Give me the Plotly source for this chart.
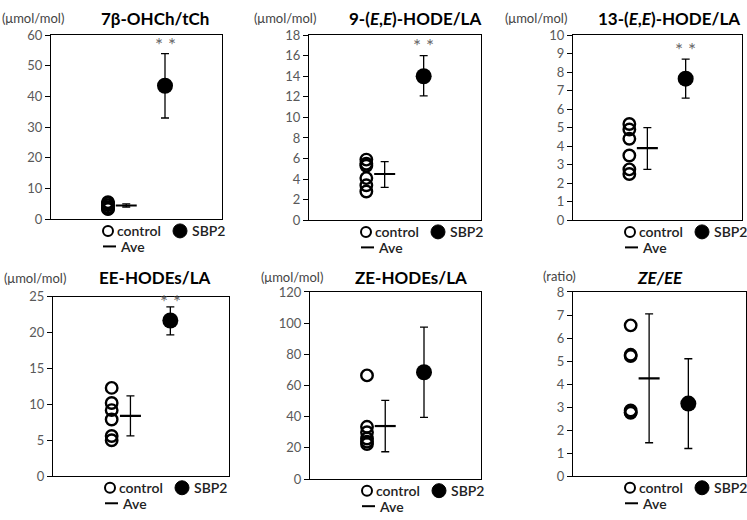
import plotly.graph_objects as go

W, H = 747, 520

titles = ["7β-OHCh/tCh", "9-(<i>E</i>,<i>E</i>)-HODE/LA", "13-(<i>E</i>,<i>E</i>)-HODE/LA",
          "EE-HODEs/LA", "ZE-HODEs/LA", "<i>ZE/EE</i>"]
units = ["(μmol/mol)", "(μmol/mol)", "(μmol/mol)", "(μmol/mol)", "(μmol/mol)", "(ratio)"]
y_max = [60, 18, 10, 25, 120, 8]
y_dtick = [10, 2, 1, 5, 20, 1]

control_vals = [
    [5.6, 5.2, 4.6, 3.9, 3.5, 3.3],
    [5.9, 5.5, 5.3, 4.1, 3.4, 2.8],
    [5.2, 4.9, 4.4, 3.5, 2.75, 2.5],
    [12.3, 10.2, 9.2, 7.9, 5.6, 5.0],
    [66.5, 33.5, 30.0, 26.0, 24.0, 22.5],
    [6.55, 5.27, 5.22, 2.85, 2.78, 2.75],
]
ave_mean = [4.5, 4.5, 3.9, 8.4, 34.0, 4.25]
ave_lo = [4.0, 3.2, 2.75, 5.6, 17.5, 1.45]
ave_hi = [5.0, 5.7, 5.0, 11.2, 50.5, 7.05]
sbp2_mean = [43.5, 14.0, 7.65, 21.7, 68.5, 3.15]
sbp2_lo = [33.0, 12.1, 6.6, 19.7, 39.5, 1.2]
sbp2_hi = [54.0, 16.0, 8.7, 23.6, 97.5, 5.1]
signif = ["* *", "* *", "* *", "* *", "", ""]
signif_y = [57.0, 17.0, 9.25, 24.3, None, None]

# x positions of groups
X_CONTROL, X_AVE, X_SBP2 = 1.0, 1.32, 2.0

# panel pixel boxes: left, right, top, bottom
boxes = [(51, 222, 28, 218), (309, 481, 28, 219), (573, 742, 28, 219),
         (53, 229, 298, 483), (310, 481, 293, 486), (573, 746, 293, 483)]
title_pos = [(155, 11), (415, 11), (669, 11), (155, 278), (411, 278), (660, 278)]
unit_pos = [(0, 10), (252, 10), (503, 10), (2, 279), (259, 278), (541, 276)]

FONT = "Lato"
TICK_COLOR = "#595959"

fig = go.Figure()

def px(x):
    return x / W

def py(y):
    return 1 - y / H

layout = dict(width=W, height=H, margin=dict(l=0, r=0, t=0, b=0),
              plot_bgcolor="white", paper_bgcolor="white", showlegend=False,
              font=dict(family=FONT, color="#222"))
annotations = []
shapes = []

for i in range(6):
    l, r, t, b = boxes[i]
    n = "" if i == 0 else str(i + 1)
    xa, ya = "x" + n, "y" + n
    layout["xaxis" + n] = dict(domain=[px(l), px(r)], range=[0, 3], anchor=ya,
                               showticklabels=False, ticks="", showgrid=False, zeroline=False,
                               showline=True, linecolor="black", linewidth=1, mirror=True,
                               fixedrange=True)
    layout["yaxis" + n] = dict(domain=[py(b), py(t)], range=[0, y_max[i]], dtick=y_dtick[i],
                               anchor=xa, showgrid=False, zeroline=False,
                               showline=True, linecolor="black", linewidth=1, mirror=True,
                               ticks="outside", ticklen=5, tickcolor="black",
                               tickfont=dict(family=FONT, size=13, color=TICK_COLOR),
                               fixedrange=True)
    cv = control_vals[i]
    fig.add_trace(go.Scatter(x=[X_CONTROL] * len(cv), y=cv, mode="markers", xaxis=xa, yaxis=ya,
                             marker=dict(symbol="circle-open", size=11.5, color="black",
                                         line=dict(width=2.4, color="black"))))
    fig.add_trace(go.Scatter(x=[X_AVE], y=[ave_mean[i]], mode="markers", xaxis=xa, yaxis=ya,
                             marker=dict(symbol="line-ew", size=15, color="black",
                                         line=dict(width=2.2, color="black")),
                             error_y=dict(type="data", symmetric=False,
                                          array=[ave_hi[i] - ave_mean[i]],
                                          arrayminus=[ave_mean[i] - ave_lo[i]],
                                          color="black", thickness=1.3, width=4)))
    fig.add_trace(go.Scatter(x=[X_SBP2], y=[sbp2_mean[i]], mode="markers", xaxis=xa, yaxis=ya,
                             marker=dict(symbol="circle", size=16, color="black"),
                             error_y=dict(type="data", symmetric=False,
                                          array=[sbp2_hi[i] - sbp2_mean[i]],
                                          arrayminus=[sbp2_mean[i] - sbp2_lo[i]],
                                          color="black", thickness=1.3, width=4)))
    if signif[i]:
        annotations.append(dict(x=X_SBP2, y=signif_y[i], xref=xa, yref=ya, text=signif[i],
                                showarrow=False, font=dict(family=FONT, size=19, color="#666")))
    # title and units
    tx, ty = title_pos[i]
    annotations.append(dict(x=px(tx), y=py(ty), xref="paper", yref="paper", text="<b>" + titles[i] + "</b>",
                            showarrow=False, xanchor="center", yanchor="middle",
                            font=dict(family=FONT, size=17, color="black")))
    ux, uy = unit_pos[i]
    annotations.append(dict(x=px(ux), y=py(uy), xref="paper", yref="paper", text=units[i],
                            showarrow=False, xanchor="left", yanchor="middle",
                            font=dict(family=FONT, size=13, color="#444")))
    # legend
    r1 = b + 12
    r2 = b + 28
    cx = l + 57
    shapes.append(dict(type="circle", xref="paper", yref="paper", xsizemode="pixel", ysizemode="pixel",
                       xanchor=px(cx), yanchor=py(r1), x0=-5, x1=5, y0=-5, y1=5,
                       line=dict(color="black", width=2), fillcolor="white"))
    annotations.append(dict(x=px(cx + 7), y=py(r1), xref="paper", yref="paper", text="control",
                            showarrow=False, xanchor="left", yanchor="middle",
                            font=dict(family=FONT, size=14, color="#222", weight=600)))
    fx = l + 129
    shapes.append(dict(type="circle", xref="paper", yref="paper", xsizemode="pixel", ysizemode="pixel",
                       xanchor=px(fx), yanchor=py(r1), x0=-7, x1=7, y0=-7, y1=7,
                       line=dict(color="black", width=1), fillcolor="black"))
    annotations.append(dict(x=px(fx + 10), y=py(r1), xref="paper", yref="paper", text="SBP2",
                            showarrow=False, xanchor="left", yanchor="middle",
                            font=dict(family=FONT, size=14, color="#222", weight=600)))
    shapes.append(dict(type="line", xref="paper", yref="paper",
                       x0=px(l + 52), x1=px(l + 65), y0=py(r2), y1=py(r2),
                       line=dict(color="black", width=2)))
    annotations.append(dict(x=px(l + 67), y=py(r2), xref="paper", yref="paper", text="Ave",
                            showarrow=False, xanchor="left", yanchor="middle",
                            font=dict(family=FONT, size=14, color="#222", weight=600)))

layout["annotations"] = annotations
layout["shapes"] = shapes
fig.update_layout(**layout)
fig.write_html("out.html", config={"displayModeBar": False},
               post_script="document.body.style.margin='0';document.body.style.overflow='hidden';")
